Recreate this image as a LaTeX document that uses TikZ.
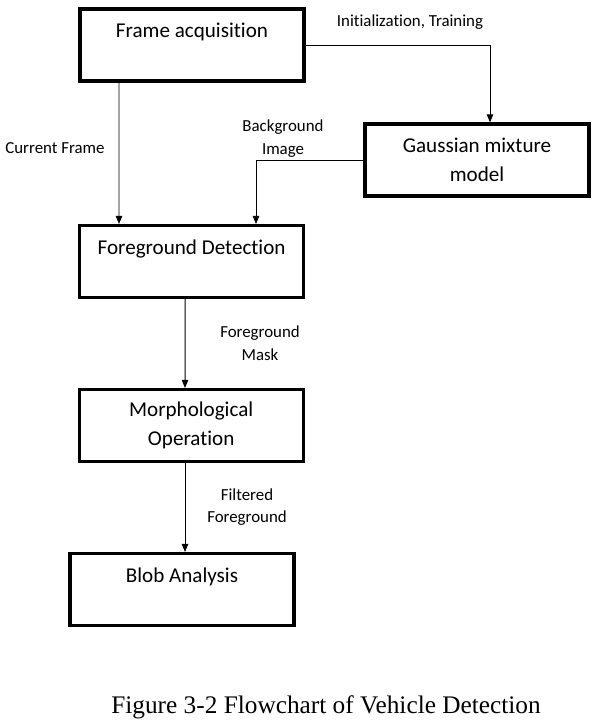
\documentclass[tikz,border=0pt]{standalone}
\usepackage{fontspec}
\setmainfont{Carlito}[Ligatures=NoCommon]
\newfontfamily\capfont{Liberation Serif}
\usepackage{tikz}
\usetikzlibrary{positioning,arrows.meta}

\begin{document}
\begin{tikzpicture}[box/.style={draw, line width=2.3pt, minimum width=5.6cm, minimum height=1.8cm, align=center, font=\fontsize{15}{20.5}\selectfont},
  lbl/.style={align=center, font=\fontsize{12}{16}\selectfont},
  arr/.style={line width=0.7pt, -{Triangle[length=2mm, width=1.6mm]}}]
  \useasboundingbox (0,0) rectangle (14.9,-18.05);
  \node[box] (frame) at (4.8,-1.125) {Frame acquisition\\\mbox{}};
  \node[box] (gmm) at (11.925,-4.0) {Gaussian mixture\\model};
  \node[box] (fgdet) at (4.79,-6.54) {Foreground Detection\\\mbox{}};
  \node[box] (morph) at (4.78,-10.64) {Morphological\\Operation};
  \node[box] (blob) at (4.55,-14.74) {Blob Analysis\\\mbox{}};
  \node[lbl] (linit) at (10.25,-0.55) {Initialization, Training};
  \node[lbl] (lcur) at (1.375,-3.7) {Current Frame};
  \node[lbl] (lbg) at (7.075,-3.46) {Background\\Image};
  \node[lbl] (lmask) at (6.5,-8.575) {Foreground\\Mask};
  \node[lbl] (lfilt) at (6.175,-12.675) {Filtered\\Foreground};
  \node[font=\capfont\fontsize{18}{22}\selectfont] (caption) at (8.15,-17.68) {Figure 3-2 Flowchart of Vehicle Detection};
  \draw[arr] (frame.east) -| ([xshift=0.325cm]gmm.north);
  \draw[arr] ([xshift=-1.825cm]frame.south) -- ([xshift=-1.815cm]fgdet.north);
  \draw[arr] (gmm.west) -| ([xshift=1.61cm]fgdet.north);
  \draw[arr] ([xshift=-0.16cm]fgdet.south) -- ([xshift=-0.155cm]morph.north);
  \draw[arr] ([xshift=-0.155cm]morph.south) -- ([xshift=0.075cm]blob.north);
\end{tikzpicture}
\end{document}
